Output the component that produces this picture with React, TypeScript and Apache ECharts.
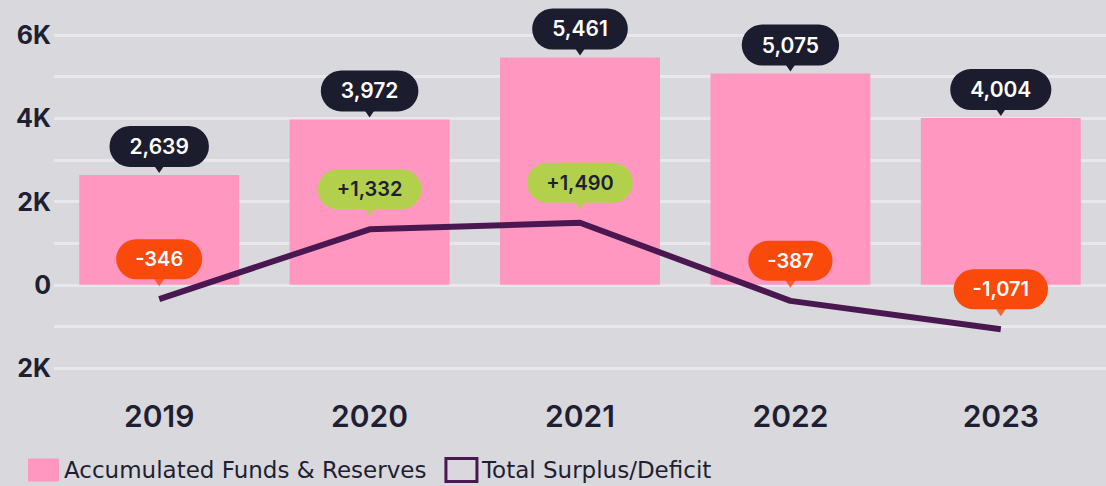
import React, { useEffect, useRef } from "react";
import * as echarts from "echarts";

const years = ["2019", "2020", "2021", "2022", "2023"];
const funds = [2639, 3972, 5461, 5075, 4004];
const surplus = [-346, 1332, 1490, -387, -1071];
const seriesNames = ["Accumulated Funds & Reserves", "Total Surplus/Deficit"];

const FONT = "Inter";
const BG = "#d9d8dd";
const PINK = "#ff97c1";
const NAVY = "#1b1c2e";
const GREEN = "#b3d04c";
const ORANGE = "#f9490b";
const PURPLE = "#4a1850";
const TEXT = "#1e1f33";

const fmt = (v: number) => Math.abs(v).toLocaleString("en-US");
const fmtSigned = (v: number) => (v > 0 ? "+" : "-") + fmt(v);
const bubbleColor = (v: number) => (v >= 0 ? GREEN : ORANGE);
const bubbleText = (v: number) => (v >= 0 ? TEXT : "#ffffff");

export default function App() {
  const ref = useRef<HTMLDivElement>(null);
  useEffect(() => {
    if (!ref.current) return;
    const chart = echarts.init(ref.current, null, { renderer: "svg" });
    const option: any = {
      animation: false,
      backgroundColor: BG,
      textStyle: { fontFamily: FONT },
      grid: { left: 54, right: -5, top: 35, bottom: 118, containLabel: false },
      legend: {
        left: 28,
        top: 457,
        padding: 0,
        itemWidth: 31,
        itemHeight: 23,
        itemGap: 18,
        textStyle: { fontFamily: "DejaVu Sans", fontSize: 23, lineHeight: 23, color: TEXT },
        data: [
          { name: seriesNames[0], icon: "rect", itemStyle: { color: PINK } },
          {
            name: seriesNames[1],
            icon: "rect",
            itemStyle: { color: "transparent", borderColor: PURPLE, borderWidth: 3 },
          },
        ],
      },
      xAxis: {
        type: "category",
        data: years,
        axisLine: { show: false },
        axisTick: { show: false },
        axisLabel: {
          margin: 33,
          fontFamily: FONT,
          fontSize: 30,
          fontWeight: 600,
          color: TEXT,
        },
      },
      yAxis: {
        type: "value",
        min: -2000,
        max: 6000,
        interval: 1000,
        axisLine: { show: false },
        axisTick: { show: false },
        splitLine: { lineStyle: { color: "#e8e7ec", width: 3 } },
        axisLabel: {
          margin: 3,
          fontFamily: FONT,
          fontSize: 25,
          fontWeight: 700,
          color: TEXT,
          formatter: (v: number) =>
            v % 2000 !== 0 ? "" : v === 0 ? "0" : Math.abs(v) / 1000 + "K",
        },
      },
      series: [
        {
          name: seriesNames[0],
          type: "bar",
          data: funds,
          barCategoryGap: "24%",
          itemStyle: { color: PINK },
          label: {
            show: true,
            position: "top",
            distance: 8,
            formatter: (p: any) => fmt(p.value),
            backgroundColor: NAVY,
            color: "#ffffff",
            fontFamily: FONT,
            fontSize: 21,
            fontWeight: 600,
            lineHeight: 21,
            padding: [10, 20],
            borderRadius: 21,
          },
          z: 2,
        },
        {
          name: "barPointer",
          type: "scatter",
          data: funds,
          symbol: "triangle",
          symbolRotate: 180,
          symbolSize: [11, 8],
          symbolOffset: [0, -6],
          itemStyle: { color: NAVY, opacity: 1 },
          silent: true,
          z: 5,
        },
        {
          name: seriesNames[1],
          type: "line",
          data: surplus.map((v) => ({
            value: v,
            label: { backgroundColor: bubbleColor(v), color: bubbleText(v) },
          })),
          symbol: "circle",
          symbolSize: 0,
          lineStyle: { color: PURPLE, width: 6 },
          itemStyle: { color: PURPLE },
          label: {
            show: true,
            position: "top",
            distance: 20,
            formatter: (p: any) => fmtSigned(p.value),
            fontFamily: FONT,
            fontSize: 20,
            fontWeight: 600,
            lineHeight: 20,
            padding: [10, 19],
            borderRadius: 20,
          },
          z: 4,
        },
        {
          name: "linePointer",
          type: "scatter",
          data: surplus.map((v) => ({ value: v, itemStyle: { color: bubbleColor(v) } })),
          symbol: "triangle",
          symbolRotate: 180,
          symbolSize: [11, 8],
          symbolOffset: [0, -17],
          silent: true,
          z: 6,
        },
      ],
    };
    chart.setOption(option);
    return () => chart.dispose();
  }, []);
  return (
    <div
      ref={ref}
      style={{ position: "fixed", left: 0, top: 0, width: 1106, height: 486 }}
    />
  );
}
